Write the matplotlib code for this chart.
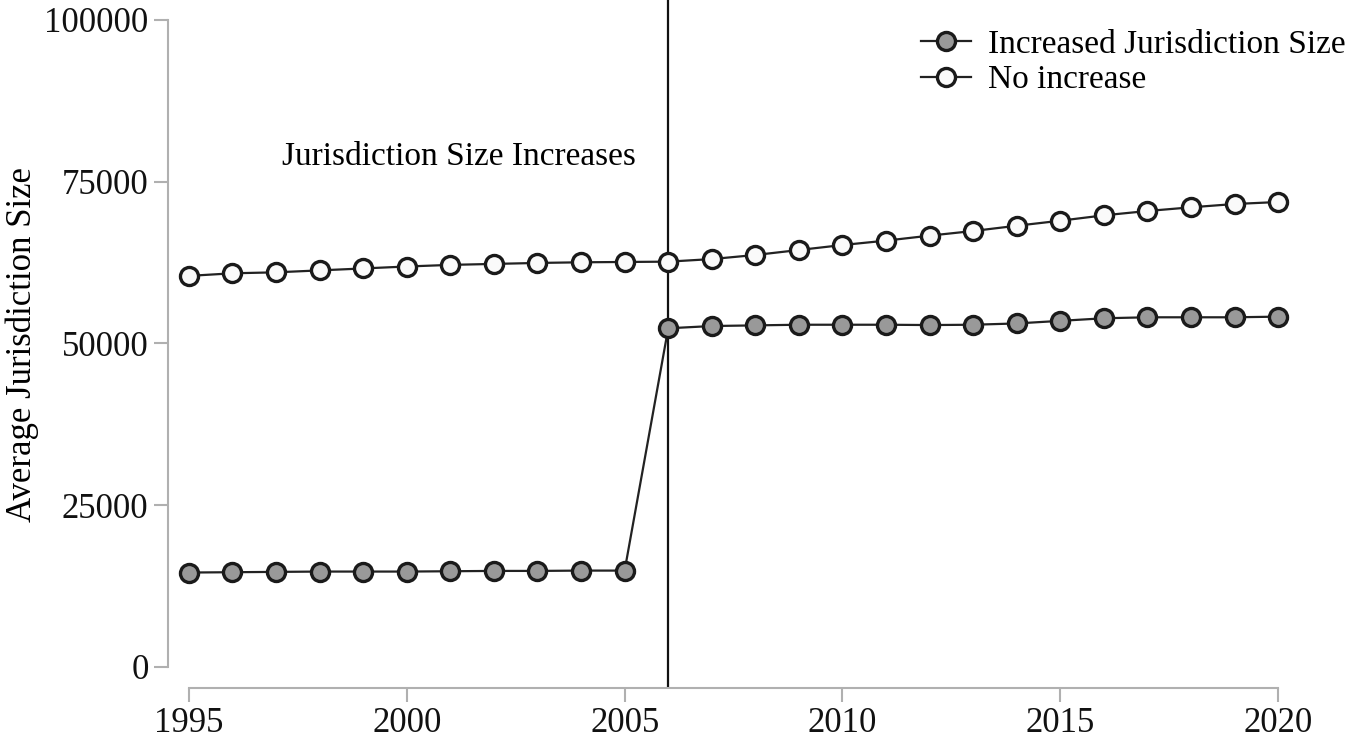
import matplotlib
matplotlib.use("Agg")
import matplotlib.pyplot as plt

years = list(range(1995, 2021))
increased = [14600, 14650, 14700, 14750, 14750, 14750, 14800, 14850, 14850, 14900, 14900,
             52350, 52700, 52800, 52900, 52900, 52900, 52850, 52900, 53100, 53500, 53900,
             54050, 54050, 54050, 54150]
no_increase = [60450, 60850, 61000, 61300, 61600, 61900, 62150, 62300, 62450, 62550, 62600,
               62650, 63050, 63680, 64450, 65220, 65900, 66670, 67390, 68200, 68980, 69810,
               70480, 71050, 71560, 71870]
yticks = [0, 25000, 50000, 75000, 100000]
xticks = [1995, 2000, 2005, 2010, 2015, 2020]
event_year = 2006

plt.rcParams['font.family'] = ['Liberation Serif', 'DejaVu Serif']

fig = plt.figure(figsize=(13.5, 7.5), dpi=100)
ax = fig.add_axes([168/1350, 62/750, (1300-168)/1350, 688/750])

ax.plot(years, increased, color='#222222', lw=1.6, marker='o', markersize=13,
        markerfacecolor='#999999', markeredgecolor='#1a1a1a', markeredgewidth=2.4,
        label='Increased Jurisdiction Size', zorder=3)
ax.plot(years, no_increase, color='#222222', lw=1.6, marker='o', markersize=13,
        markerfacecolor='#fafafa', markeredgecolor='#1a1a1a', markeredgewidth=2.4,
        label='No increase', zorder=3)
ax.axvline(event_year, color='#111111', lw=1.6, zorder=2)

ax.text(2005.26, 78800, 'Jurisdiction Size Increases', ha='right', va='center', fontsize=24)

ax.set_xlim(1994.52, 2020.5)
ax.set_ylim(-3246, 103091)
ax.set_xticks(xticks)
ax.set_yticks(yticks)
ax.set_xticklabels([str(x) for x in xticks])
ax.set_yticklabels([str(y) for y in yticks])
ax.tick_params(axis='both', labelsize=25, color='#b0b0b0', width=1.5, length=10, labelcolor='#111111')
ax.tick_params(axis='y', pad=4)
ax.tick_params(axis='x', pad=4)

for s in ['top', 'right']:
    ax.spines[s].set_visible(False)
ax.spines['left'].set_bounds(0, 100000)
ax.spines['bottom'].set_bounds(1995, 2020)
for s in ['left', 'bottom']:
    ax.spines[s].set_color('#b0b0b0')
    ax.spines[s].set_linewidth(1.5)

ax.set_ylabel('Average Jurisdiction Size', fontsize=25)
ax.yaxis.set_label_coords(22/1350, (750-345)/750, transform=fig.transFigure)
ax.yaxis.label.set_va('center')

leg = ax.legend(loc='upper right', frameon=False, fontsize=24,
                handlelength=1.5, handletextpad=0.5, labelspacing=0.15, borderaxespad=0.3)
leg.set_bbox_to_anchor((1.0 + 19/1350, 1.0 - 6/750), transform=fig.transFigure)

fig.savefig('out.png', dpi=100)
